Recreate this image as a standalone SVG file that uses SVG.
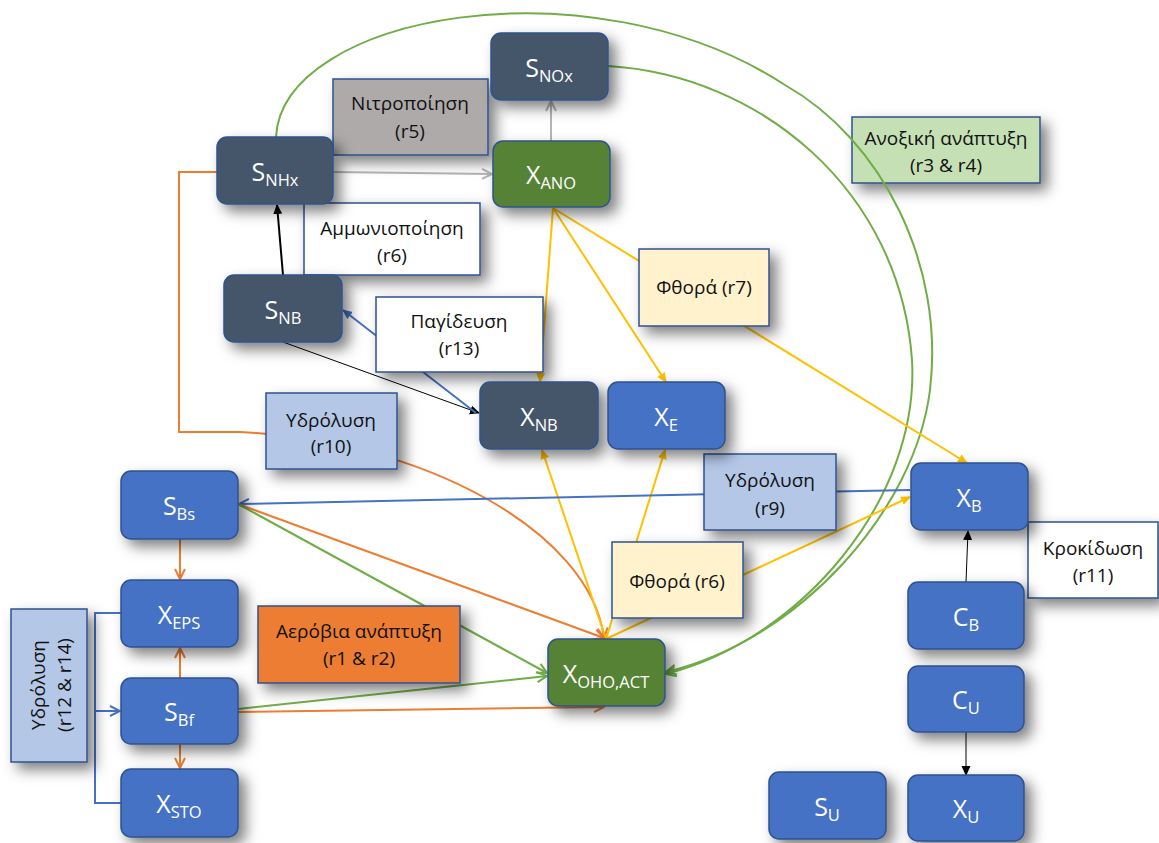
<svg xmlns="http://www.w3.org/2000/svg" width="1159" height="843" viewBox="0 0 1159 843">
<defs>
<filter id="sh" x="-30%" y="-30%" width="170%" height="170%"><feDropShadow dx="7" dy="7" stdDeviation="7" flood-color="#000" flood-opacity="0.5"/></filter>
<marker id="mY" viewBox="0 0 10 10" refX="9" refY="5" markerWidth="10" markerHeight="10" markerUnits="userSpaceOnUse" orient="auto"><path d="M0,0.5 L10,5 L0,9.5 z" fill="#ffc000"/></marker>
<marker id="mK" viewBox="0 0 10 10" refX="9" refY="5" markerWidth="10" markerHeight="10" markerUnits="userSpaceOnUse" orient="auto"><path d="M0,0.5 L10,5 L0,9.5 z" fill="#000"/></marker>
<marker id="mB" viewBox="0 0 10 10" refX="9" refY="5" markerWidth="10" markerHeight="10" markerUnits="userSpaceOnUse" orient="auto"><path d="M0,0.5 L10,5 L0,9.5 z" fill="#4472c4"/></marker>
<marker id="mO" viewBox="0 0 12 12" refX="11" refY="6" markerWidth="12" markerHeight="12" markerUnits="userSpaceOnUse" orient="auto"><path d="M1,1 L11,6 L1,11" fill="none" stroke="#ed7d31" stroke-width="2"/></marker>
<marker id="mG" viewBox="0 0 12 12" refX="11" refY="6" markerWidth="12" markerHeight="12" markerUnits="userSpaceOnUse" orient="auto"><path d="M1,1 L11,6 L1,11" fill="none" stroke="#70ad47" stroke-width="2"/></marker>
<marker id="mBo" viewBox="0 0 12 12" refX="11" refY="6" markerWidth="12" markerHeight="12" markerUnits="userSpaceOnUse" orient="auto"><path d="M1,1 L11,6 L1,11" fill="none" stroke="#4472c4" stroke-width="2"/></marker>
<marker id="mGr" viewBox="0 0 12 12" refX="11" refY="6" markerWidth="12" markerHeight="12" markerUnits="userSpaceOnUse" orient="auto"><path d="M1,1 L11,6 L1,11" fill="none" stroke="#b4b4b4" stroke-width="2"/></marker>
</defs>
<style>
.n rect{stroke:#2f528f;stroke-width:1.5;filter:url(#sh)}
.dk{fill:#44546a}.bl{fill:#4472c4}.gn{fill:#548235}
.n text{font-family:"Open Sans","Noto Sans",sans-serif;font-size:25px;fill:#fff;text-anchor:middle}
.n tspan.s{font-size:16.5px}
.l rect{stroke:#2f528f;stroke-width:1.5;filter:url(#sh)}
.l text{font-family:"Open Sans","Noto Sans",sans-serif;font-size:19px;fill:#111;text-anchor:middle}
.c path{fill:none;stroke-width:2}
.y{stroke:#ffc000}.o{stroke:#ed7d31}.g{stroke:#70ad47}.b{stroke:#4472c4}.k{stroke:#000}.gr{stroke:#b4b4b4}
</style>
<rect width="1159" height="843" fill="#fff"/>

<g id="lbl-anoxic" class="l"><rect x="852" y="117" width="188" height="66" fill="#c5e0b4"/><text x="946" y="145">Ανοξική ανάπτυξη</text><text x="946" y="172">(r3 &amp; r4)</text></g>

<g id="connectors" class="c">
<path class="gr" d="M333,172 L492,174" marker-end="url(#mGr)"/>
<path class="gr" d="M551,141 L551,101" marker-end="url(#mGr)"/>
<path class="g" d="M276,137 C282,15 590,-42 785,85 C882,140 945,265 930,390 C915,510 800,640 666,672" marker-end="url(#mG)"/>
<path class="g" d="M608,66 C760,75 900,190 912,360 C920,500 800,640 666,674" marker-end="url(#mG)"/>
<path class="o" d="M217,172 H179 V432 H240 C420,440 590,530 604,638" marker-end="url(#mO)"/>
<path class="k" d="M283,275 L277,205" marker-end="url(#mK)"/>
<path class="k" style="stroke-width:1" d="M283,342 L479,413" marker-end="url(#mK)"/>
<path class="b" d="M476,413 L343,310" marker-end="url(#mB)"/>
<path class="y" d="M553,208 L540,382" marker-end="url(#mY)"/>
<path class="y" d="M553,208 L666,382" marker-end="url(#mY)"/>
<path class="y" d="M553,208 L967,463" marker-end="url(#mY)"/>
<path class="y" d="M606,639 L542,450" marker-end="url(#mY)"/>
<path class="y" d="M606,639 L665,450" marker-end="url(#mY)"/>
<path class="y" d="M606,639 L910,497" marker-end="url(#mY)"/>
<path class="b" d="M910,490 L239,504" marker-end="url(#mBo)"/>
<path class="o" d="M238,504 L604,638" marker-end="url(#mO)"/>
<path class="g" d="M238,504 L547,673" marker-end="url(#mG)"/>
<path class="g" d="M238,709 L547,676" marker-end="url(#mG)"/>
<path class="o" d="M238,712 L604,707" marker-end="url(#mO)"/>
<path class="o" d="M180,539 V579" marker-end="url(#mO)"/>
<path class="o" d="M180,678 V648" marker-end="url(#mO)"/>
<path class="o" d="M180,744 V768" marker-end="url(#mO)"/>
<path class="b" d="M121,613 H95 V803 H121"/>
<path class="b" d="M95,711 H120" marker-end="url(#mBo)"/>
<path class="k" style="stroke-width:1" d="M966,582 L968,531" marker-end="url(#mK)"/>
<path class="k" style="stroke-width:1" d="M966,732 L966,775" marker-end="url(#mK)"/>
</g>

<g id="lbl-nitro" class="l"><rect x="333" y="79" width="155" height="76" fill="#aeaaaa"/><text x="410" y="110">Νιτροποίηση</text><text x="410" y="138">(r5)</text></g>
<g id="lbl-ammon" class="l"><rect x="304" y="203" width="176" height="72" fill="#fff"/><text x="392" y="235">Αμμωνιοποίηση</text><text x="392" y="262">(r6)</text></g>
<g id="lbl-trap" class="l"><rect x="376" y="297" width="167" height="75" fill="#fff"/><text x="459" y="328">Παγίδευση</text><text x="459" y="355">(r13)</text></g>
<g id="lbl-hyd10" class="l"><rect x="266" y="393" width="131" height="76" fill="#b4c7e7"/><text x="331" y="427">Υδρόλυση</text><text x="331" y="453">(r10)</text></g>
<g id="lbl-decay7" class="l"><rect x="639" y="249" width="130" height="77" fill="#fff2cc"/><text x="704" y="294">Φθορά (r7)</text></g>
<g id="lbl-hyd9" class="l"><rect x="704" y="454" width="132" height="76" fill="#b4c7e7"/><text x="770" y="487">Υδρόλυση</text><text x="770" y="515">(r9)</text></g>
<g id="lbl-decay6" class="l"><rect x="612" y="542" width="131" height="76" fill="#fff2cc"/><text x="677" y="588">Φθορά (r6)</text></g>
<g id="lbl-floc" class="l"><rect x="1028" y="522" width="130" height="76" fill="#fff"/><text x="1093" y="555">Κροκίδωση</text><text x="1093" y="582">(r11)</text></g>
<g id="lbl-aerobic" class="l"><rect x="258" y="606" width="202" height="77" fill="#ed7d31"/><text x="359" y="638">Αερόβια ανάπτυξη</text><text x="359" y="665">(r1 &amp; r2)</text></g>
<g id="lbl-hyd12" class="l"><rect x="11" y="609" width="76" height="153" fill="#b4c7e7"/><text transform="translate(45,685) rotate(-90)">Υδρόλυση</text><text transform="translate(71,685) rotate(-90)">(r12 &amp; r14)</text></g>

<g id="SNOx" class="n"><rect class="dk" x="491" y="33" width="117" height="67" rx="10"/><text x="549" y="77">S<tspan class="s" dy="5">NOx</tspan></text></g>
<g id="XANO" class="n"><rect class="gn" x="493" y="141" width="117" height="66" rx="10"/><text x="551" y="184">X<tspan class="s" dy="5">ANO</tspan></text></g>
<g id="SNHx" class="n"><rect class="dk" x="217" y="137" width="116" height="67" rx="10"/><text x="275" y="181">S<tspan class="s" dy="5">NHx</tspan></text></g>
<g id="SNB" class="n"><rect class="dk" x="224" y="275" width="118" height="67" rx="10"/><text x="283" y="319">S<tspan class="s" dy="5">NB</tspan></text></g>
<g id="XNB" class="n"><rect class="dk" x="480" y="382" width="118" height="67" rx="10"/><text x="539" y="426">X<tspan class="s" dy="5">NB</tspan></text></g>
<g id="XE" class="n"><rect class="bl" x="608" y="382" width="117" height="67" rx="10"/><text x="666" y="426">X<tspan class="s" dy="5">E</tspan></text></g>
<g id="XB" class="n"><rect class="bl" x="911" y="463" width="117" height="67" rx="10"/><text x="969" y="507">X<tspan class="s" dy="5">B</tspan></text></g>
<g id="SBs" class="n"><rect class="bl" x="121" y="471" width="117" height="68" rx="10"/><text x="179" y="515">S<tspan class="s" dy="5">Bs</tspan></text></g>
<g id="XEPS" class="n"><rect class="bl" x="121" y="580" width="117" height="67" rx="10"/><text x="179" y="624">X<tspan class="s" dy="5">EPS</tspan></text></g>
<g id="SBf" class="n"><rect class="bl" x="121" y="678" width="117" height="66" rx="10"/><text x="179" y="721">S<tspan class="s" dy="5">Bf</tspan></text></g>
<g id="XSTO" class="n"><rect class="bl" x="121" y="769" width="117" height="68" rx="10"/><text x="179" y="813">X<tspan class="s" dy="5">STO</tspan></text></g>
<g id="XOHO" class="n"><rect class="gn" x="548" y="639" width="117" height="67" rx="10"/><text x="606" y="683">X<tspan class="s" dy="5">OHO,ACT</tspan></text></g>
<g id="CB" class="n"><rect class="bl" x="908" y="582" width="116" height="67" rx="10"/><text x="966" y="626">C<tspan class="s" dy="5">B</tspan></text></g>
<g id="CU" class="n"><rect class="bl" x="908" y="666" width="116" height="66" rx="10"/><text x="966" y="709">C<tspan class="s" dy="5">U</tspan></text></g>
<g id="XU" class="n"><rect class="bl" x="908" y="775" width="116" height="66" rx="10"/><text x="966" y="818">X<tspan class="s" dy="5">U</tspan></text></g>
<g id="SU" class="n"><rect class="bl" x="769" y="772" width="117" height="67" rx="10"/><text x="827" y="816">S<tspan class="s" dy="5">U</tspan></text></g>
</svg>
